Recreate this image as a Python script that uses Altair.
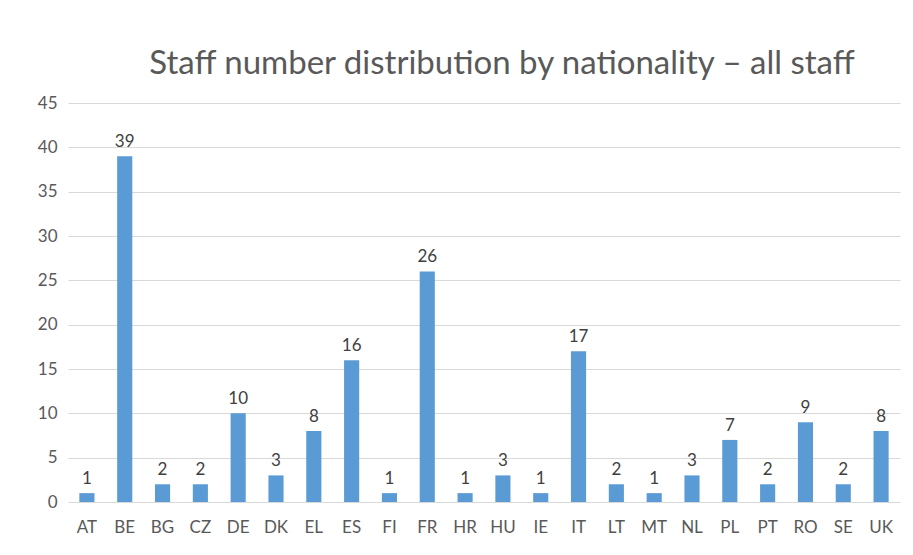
import altair as alt
import pandas as pd

countries = ["AT", "BE", "BG", "CZ", "DE", "DK", "EL", "ES", "FI", "FR", "HR",
             "HU", "IE", "IT", "LT", "MT", "NL", "PL", "PT", "RO", "SE", "UK"]
staff = [1, 39, 2, 2, 10, 3, 8, 16, 1, 26, 1, 3, 1, 17, 2, 1, 3, 7, 2, 9, 2, 8]

df = pd.DataFrame({"country": countries, "staff": staff})

FONT = "Lato"
GREY = "#595959"

base = alt.Chart(df).encode(
    x=alt.X("country:N", sort=countries, title=None,
            scale=alt.Scale(paddingInner=0.6, paddingOuter=0.3),
            axis=alt.Axis(labelAngle=0, labelFont=FONT, labelFontSize=17,
                          labelColor=GREY, ticks=False, domain=False,
                          labelPadding=17, grid=False)),
    y=alt.Y("staff:Q", title=None,
            scale=alt.Scale(domain=[0, 45]),
            axis=alt.Axis(values=list(range(0, 50, 5)), labelFont=FONT,
                          labelFontSize=17, labelColor=GREY, ticks=False,
                          domain=False, labelPadding=11, gridColor="#d9d9d9",
                          gridWidth=1.2)),
)

bars = base.mark_bar(color="#5B9BD5")
labels = base.mark_text(dy=-14, font=FONT, fontSize=17, color="#404040").encode(
    text="staff:Q")

chart = (bars + labels).properties(
    width=832, height=399,
    title=alt.TitleParams("Staff number distribution by nationality \u2013 all staff",
                          font=FONT, fontSize=33, fontWeight="normal",
                          color=GREY, anchor="middle", dx=18, offset=13),
    autosize=alt.AutoSizeParams(type="none"),
    padding={"left": 60, "top": 95, "right": 5, "bottom": 45},
).configure_view(stroke=None)

chart.save("out.html", embed_options={"renderer": "svg", "actions": False})
